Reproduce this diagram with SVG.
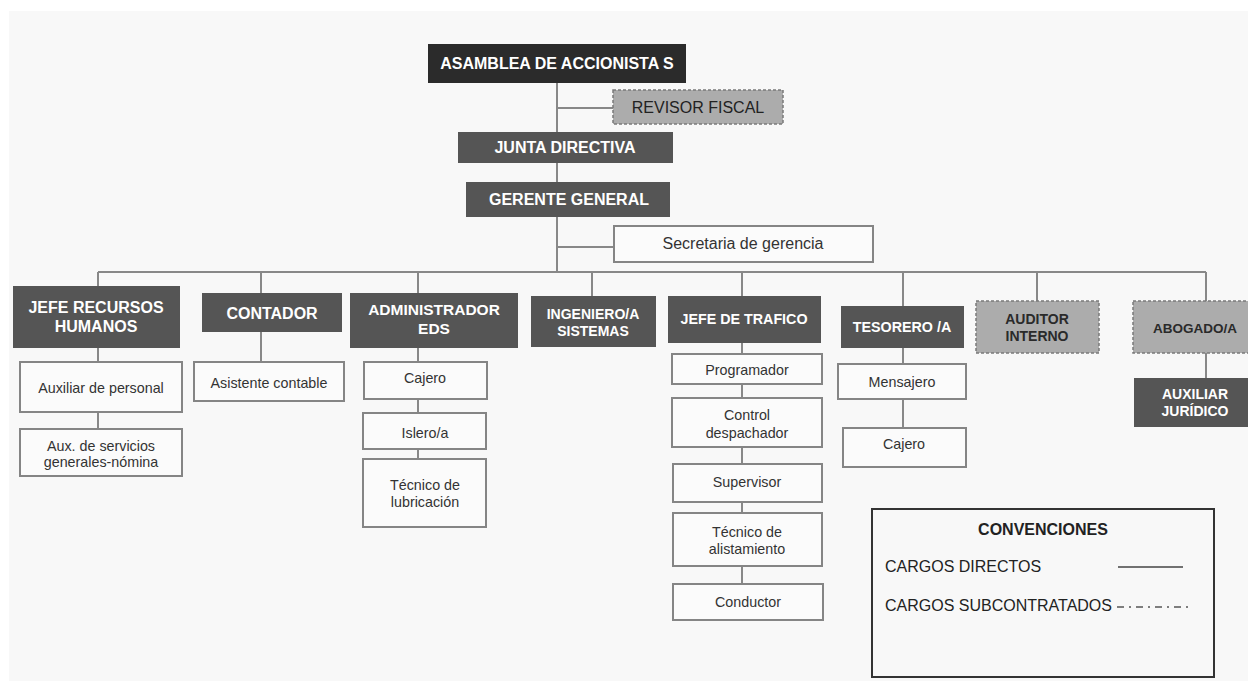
<svg xmlns="http://www.w3.org/2000/svg" width="1248" height="681" viewBox="0 0 1248 681">
<style>
text{font-family:"Liberation Sans",Arial,sans-serif;text-anchor:middle}
text.st{text-anchor:start}
.dk{fill:#555555}
.blk{fill:#2b2b2b}
.lt{fill:#acacac;stroke:#7a7a7a;stroke-width:1.5;stroke-dasharray:3 2}
.wb{fill:#fbfbfb;stroke:#858585;stroke-width:2}
.tw{fill:#ffffff;font-weight:bold}
.td{fill:#2a2a2a;font-weight:bold}
.ts{fill:#333333;font-size:14.3px}
.conn line,.conn polyline{stroke:#888888;stroke-width:2;fill:none}
</style>
<rect x="9" y="11" width="1239" height="670" fill="#f8f8f8"/>
<g class="conn" id="connectors">
<line x1="557" y1="83" x2="557" y2="132"/>
<line x1="557" y1="108" x2="613" y2="108"/>
<line x1="557" y1="163" x2="557" y2="182"/>
<line x1="557" y1="217" x2="557" y2="273"/>
<line x1="557" y1="247" x2="614" y2="247"/>
<line x1="98" y1="272" x2="1206" y2="272"/>
<line x1="98" y1="272" x2="98" y2="286"/>
<line x1="261" y1="272" x2="261" y2="293"/>
<line x1="418" y1="272" x2="418" y2="293"/>
<line x1="592" y1="272" x2="592" y2="296"/>
<line x1="742" y1="272" x2="742" y2="296"/>
<line x1="903" y1="272" x2="903" y2="306"/>
<line x1="1037" y1="272" x2="1037" y2="301"/>
<line x1="1206" y1="272" x2="1206" y2="301"/>
<line x1="98" y1="348" x2="98" y2="362"/>
<line x1="98" y1="412" x2="98" y2="429"/>
<line x1="261" y1="332" x2="261" y2="362"/>
<line x1="418" y1="348" x2="418" y2="362"/>
<line x1="418" y1="399" x2="418" y2="413"/>
<line x1="418" y1="449" x2="418" y2="459"/>
<line x1="742" y1="343" x2="742" y2="354"/>
<line x1="742" y1="384" x2="742" y2="398"/>
<line x1="742" y1="447" x2="742" y2="464"/>
<line x1="742" y1="502" x2="742" y2="513"/>
<line x1="742" y1="566" x2="742" y2="584"/>
<line x1="903" y1="348" x2="903" y2="364"/>
<line x1="903" y1="399" x2="903" y2="428"/>
<line x1="1206" y1="353" x2="1206" y2="378"/>
</g>
<g id="asamblea"><rect class="blk" x="428" y="44" width="258" height="39"/><text class="tw" x="557" y="69" font-size="16">ASAMBLEA DE ACCIONISTA S</text></g>
<g id="revisor"><rect class="lt" x="613" y="90" width="170" height="34"/><text x="698" y="113" font-size="16" fill="#222">REVISOR FISCAL</text></g>
<g id="junta"><rect class="dk" x="458" y="132" width="215" height="31"/><text class="tw" x="565" y="153" font-size="16">JUNTA DIRECTIVA</text></g>
<g id="gerente"><rect class="dk" x="466" y="182" width="204" height="35"/><text class="tw" x="569" y="205" font-size="16">GERENTE GENERAL</text></g>
<g id="secretaria"><rect class="wb" x="614" y="226" width="259" height="36"/><text x="743" y="249" font-size="16" fill="#333">Secretaria de gerencia</text></g>
<g id="rrhh"><rect class="dk" x="13" y="286" width="167" height="62"/><text class="tw" font-size="16"><tspan x="96" y="313">JEFE RECURSOS</tspan><tspan x="96" y="332">HUMANOS</tspan></text></g>
<g id="contador"><rect class="dk" x="202" y="293" width="140" height="39"/><text class="tw" x="272" y="319" font-size="16">CONTADOR</text></g>
<g id="admin"><rect class="dk" x="350" y="293" width="168" height="55"/><text class="tw" font-size="15.5"><tspan x="434" y="315">ADMINISTRADOR</tspan><tspan x="434" y="334">EDS</tspan></text></g>
<g id="ingeniero"><rect class="dk" x="531" y="296" width="125" height="51"/><text class="tw" font-size="14"><tspan x="593" y="319">INGENIERO/A</tspan><tspan x="593" y="336">SISTEMAS</tspan></text></g>
<g id="trafico"><rect class="dk" x="668" y="296" width="153" height="47"/><text class="tw" x="744" y="324" font-size="14.3">JEFE DE TRAFICO</text></g>
<g id="tesorero"><rect class="dk" x="841" y="306" width="123" height="42"/><text class="tw" x="902" y="332" font-size="14.3">TESORERO /A</text></g>
<g id="auditor"><rect class="lt" x="976" y="301" width="123" height="52"/><text class="td" font-size="14"><tspan x="1037" y="324">AUDITOR</tspan><tspan x="1037" y="341">INTERNO</tspan></text></g>
<g id="abogado"><rect class="lt" x="1133" y="301" width="125" height="52"/><text class="td" x="1195" y="333" font-size="13.5">ABOGADO/A</text></g>
<g id="juridico"><rect class="dk" x="1134" y="378" width="124" height="49"/><text class="tw" font-size="14"><tspan x="1195" y="399">AUXILIAR</tspan><tspan x="1195" y="416">JURÍDICO</tspan></text></g>
<g id="aux-personal"><rect class="wb" x="20" y="362" width="162" height="50"/><text class="ts" x="101" y="393">Auxiliar de personal</text></g>
<g id="aux-servicios"><rect class="wb" x="20" y="429" width="162" height="47"/><text class="ts"><tspan x="101" y="451">Aux. de servicios</tspan><tspan x="101" y="467">generales-nómina</tspan></text></g>
<g id="asistente"><rect class="wb" x="194" y="362" width="150" height="39"/><text class="ts" x="269" y="388">Asistente contable</text></g>
<g id="cajero1"><rect class="wb" x="364" y="362" width="123" height="37"/><text class="ts" x="425" y="383">Cajero</text></g>
<g id="islero"><rect class="wb" x="363" y="413" width="123" height="36"/><text class="ts" x="425" y="438">Islero/a</text></g>
<g id="tecnico-lub"><rect class="wb" x="363" y="459" width="123" height="68"/><text class="ts"><tspan x="425" y="490">Técnico de</tspan><tspan x="425" y="507">lubricación</tspan></text></g>
<g id="programador"><rect class="wb" x="672" y="354" width="150" height="30"/><text class="ts" x="747" y="375">Programador</text></g>
<g id="control"><rect class="wb" x="672" y="398" width="150" height="49"/><text class="ts"><tspan x="747" y="420">Control</tspan><tspan x="747" y="438">despachador</tspan></text></g>
<g id="supervisor"><rect class="wb" x="673" y="464" width="149" height="38"/><text class="ts" x="747" y="487">Supervisor</text></g>
<g id="tecnico-alist"><rect class="wb" x="673" y="513" width="149" height="53"/><text class="ts"><tspan x="747" y="537">Técnico de</tspan><tspan x="747" y="554">alistamiento</tspan></text></g>
<g id="conductor"><rect class="wb" x="673" y="584" width="150" height="36"/><text class="ts" x="748" y="607">Conductor</text></g>
<g id="mensajero"><rect class="wb" x="838" y="364" width="128" height="35"/><text class="ts" x="902" y="387">Mensajero</text></g>
<g id="cajero2"><rect class="wb" x="843" y="428" width="123" height="39"/><text class="ts" x="904" y="449">Cajero</text></g>
<g id="legend">
<rect x="872" y="509" width="342" height="168" fill="none" stroke="#333" stroke-width="2"/>
<text x="1043" y="535" font-size="16" font-weight="bold" fill="#222">CONVENCIONES</text>
<text class="st" x="885" y="572" font-size="16" fill="#222">CARGOS DIRECTOS</text>
<line x1="1118" y1="567" x2="1183" y2="567" stroke="#444" stroke-width="1.5"/>
<text class="st" x="885" y="611" font-size="16" fill="#222">CARGOS SUBCONTRATADOS</text>
<line x1="1117" y1="607" x2="1190" y2="607" stroke="#555" stroke-width="1.5" stroke-dasharray="7 5 2 5"/>
</g>
</svg>
